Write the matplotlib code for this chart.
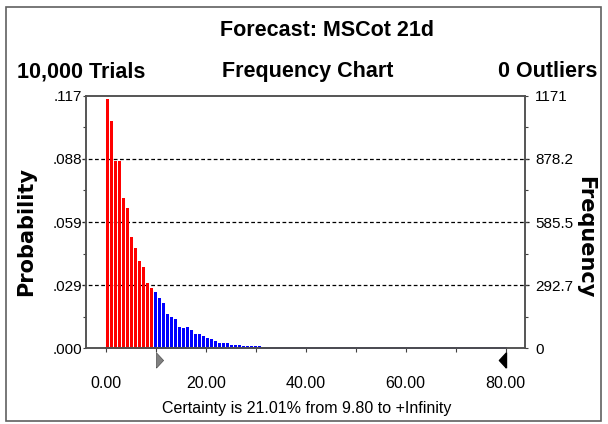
import matplotlib
matplotlib.use("Agg")
import matplotlib.pyplot as plt
from matplotlib.patches import Rectangle
import numpy as np

# Crystal Ball style frequency chart, 10,000 trials, cells of width 0.8
bin_width = 0.8
frequencies = [1154, 1055, 868, 868, 698, 649, 516, 463, 405, 377, 304, 278,
               260, 235, 210, 159, 144, 134, 99, 94, 100, 83, 66, 66, 57, 48,
               42, 34, 25, 25, 25, 15, 15, 15, 9, 9, 9, 9, 9]
trials = 10000
cutoff = 9.80
range_end = 80.0
freq_ticks = [0, 292.7, 585.5, 878.2, 1171]
freq_labels = ["0", "292.7", "585.5", "878.2", "1171"]
prob_labels = [".000", ".029", ".059", ".088", ".117"]
x_ticks = [0, 20, 40, 60, 80]
x_labels = ["0.00", "20.00", "40.00", "60.00", "80.00"]

RED = "#ff0000"
BLUE = "#0000ff"
FONT = "Liberation Sans"

W, H = 608, 424
fig = plt.figure(figsize=(W / 100, H / 100), dpi=100)

# outer frame
fig.patches.append(Rectangle((5.7 / W, 1 - 421 / H), (601 - 5.7) / W, (421 - 6.7) / H,
                             transform=fig.transFigure, fill=False,
                             edgecolor="#606060", linewidth=1.2))

ax = fig.add_axes([86 / W, 1 - 348.3 / H, (525 - 86) / W, 252.6 / H])
ax2 = ax.twinx()

lefts = np.arange(len(frequencies)) * bin_width
colors = [RED if l + bin_width / 2 < cutoff else BLUE for l in lefts]
ax.bar(lefts, frequencies, width=0.6, align="edge", color=colors, linewidth=0, zorder=2)

# baseline strip
ax.plot([0, cutoff], [0, 0], color=RED, lw=1.3, clip_on=False, zorder=1)
ax.plot([cutoff, range_end], [0, 0], color="#00008b", lw=1.3, clip_on=False, zorder=1)

ax.set_xlim(-3.94, 83.86)
ax.set_ylim(0, freq_ticks[-1])
ax2.set_ylim(0, freq_ticks[-1])

# dashed grid, running a little past the frame like the original
for v in freq_ticks[1:-1]:
    ax.plot([-0.008, 1.008], [v, v], color="black", lw=0.9, ls=(0, (3, 2)),
            transform=ax.get_yaxis_transform(), clip_on=False, zorder=0)

minor = [(a + b) / 2 for a, b in zip(freq_ticks[:-1], freq_ticks[1:])]
ax.set_yticks(freq_ticks)
ax.set_yticklabels(prob_labels, fontsize=11, family=FONT)
ax.set_yticks(minor, minor=True)
ax.tick_params(axis="y", which="both", direction="out", length=2.5, pad=0.5,
               color="#404040", width=0.8)

ax2.set_yticks(freq_ticks)
ax2.set_yticklabels(freq_labels, fontsize=11, family=FONT)
ax2.set_yticks(minor, minor=True)
ax2.tick_params(axis="y", which="both", direction="out", length=2.5, pad=4.8,
                color="#404040", width=0.8)

ax.set_xticks(x_ticks)
ax.set_xticklabels(x_labels, fontsize=11.5, family=FONT)
ax.set_xticks(np.arange(10, 80, 20), minor=True)
ax.tick_params(axis="x", which="both", direction="out", length=3, pad=17,
               color="#404040", width=0.8)

for a in (ax, ax2):
    for s in a.spines.values():
        s.set_color("#505050")
        s.set_linewidth(1.1)

# certainty grabbers
tri_right = [(0, -1), (0.93, 0), (0, 1), (0, -1)]
tri_left = [(0, -1), (-0.93, 0), (0, 1), (0, -1)]
ax.plot([cutoff + 0.2], [-0.047], marker=tri_right, ms=11, color="#808080",
        mec="#505050", mew=0.5, transform=ax.get_xaxis_transform(), clip_on=False)
ax.plot([range_end], [-0.047], marker=tri_left, ms=11, color="black",
        transform=ax.get_xaxis_transform(), clip_on=False)

# texts
fig.text(327 / W, 1 - 36 / H, "Forecast: MSCot 21d", ha="center", va="baseline",
         fontsize=15.5, fontweight="bold", family=FONT)
fig.text(17.3 / W, 1 - 77.3 / H, f"{trials:,} Trials", ha="left", va="baseline",
         fontsize=15.5, fontweight="bold", family=FONT)
fig.text(307.7 / W, 1 - 77.3 / H, "Frequency Chart", ha="center", va="baseline",
         fontsize=15.5, fontweight="bold", family=FONT)
fig.text(597.7 / W, 1 - 77.3 / H, "0 Outliers", ha="right", va="baseline",
         fontsize=15.5, fontweight="bold", family=FONT)
fig.text(26 / W, 1 - 231 / H, "Probability", rotation=90, ha="center", va="center",
         fontsize=15, fontweight="bold", family="DejaVu Sans")
fig.text(585 / W, 1 - 237 / H, "Frequency", rotation=-90, ha="center", va="center",
         fontsize=15, fontweight="bold", family="DejaVu Sans")
fig.text(307 / W, 1 - 413 / H, "Certainty is 21.01% from 9.80 to +Infinity",
         ha="center", va="baseline", fontsize=11.5, family=FONT)

fig.savefig("out.png", dpi=100, facecolor="white")
